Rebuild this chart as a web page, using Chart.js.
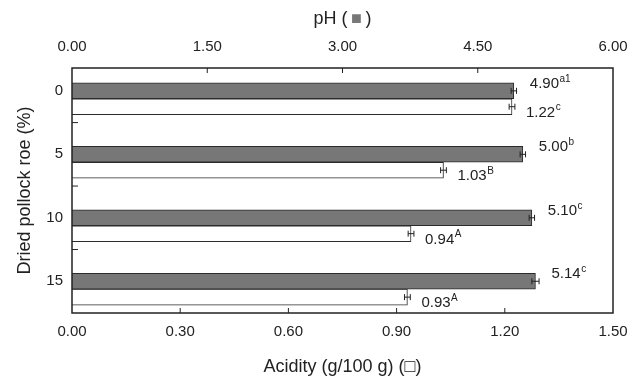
<!DOCTYPE html>
<html>
<head>
<meta charset="utf-8">
<script src="https://cdn.jsdelivr.net/npm/chart.js@4.4.1/dist/chart.umd.min.js"></script>
<style>
  body { margin: 0; background: #fff; }
</style>
</head>
<body>
<canvas id="myChart" width="640" height="382"></canvas>
<script>
// data
const roeLevels = [0, 5, 10, 15];
const phValues = [4.90, 5.00, 5.10, 5.14];
const phErrors = [0.03, 0.03, 0.03, 0.04];
const phLetters = ["a1", "b", "c", "c"];
const acidityValues = [1.22, 1.03, 0.94, 0.93];
const acidityErrors = [0.008, 0.008, 0.008, 0.008];
const acidityLetters = ["c", "B", "A", "A"];
const yTicks = [0, 2.5, 5, 7.5, 10, 12.5, 15];

const FONT = '"Liberation Sans", Arial, Helvetica, sans-serif';
const INK = "#222";
const WHITE_SHIFT = 1.25; // white bar sits just below the dark one

Chart.defaults.font.family = FONT;
Chart.defaults.color = INK;

const ctx = document.getElementById("myChart");

function drawLabel(c, x, y, main, sup) {
  c.textAlign = "left";
  c.textBaseline = "middle";
  c.font = "15px " + FONT;
  c.fillText(main, x, y);
  const w = c.measureText(main).width;
  c.font = "10px " + FONT;
  c.fillText(sup, x + w + 0.5, y - 5);
}

const decorations = {
  id: "decorations",
  afterDatasetsDraw(chart) {
    const c = chart.ctx;
    c.save();
    c.strokeStyle = INK;
    c.fillStyle = INK;
    c.lineWidth = 1;
    chart.data.datasets.forEach((ds, d) => {
      const meta = chart.getDatasetMeta(d);
      const xs = meta.vScale;
      meta.data.forEach((bar, i) => {
        const v = ds.data[i].x;
        const e = ds.errors[i];
        const x1 = xs.getPixelForValue(v - e);
        const x2 = xs.getPixelForValue(v + e);
        const y = bar.y;
        c.beginPath();
        c.moveTo(x1, y); c.lineTo(x2, y);
        c.moveTo(x1, y - 3); c.lineTo(x1, y + 3);
        c.moveTo(x2, y - 3); c.lineTo(x2, y + 3);
        c.stroke();
        const lx = xs.getPixelForValue(v) + ds.labelDx;
        drawLabel(c, lx, y + ds.labelDy, v.toFixed(2), ds.letters[i]);
      });
    });
    c.restore();
  },
  afterDraw(chart) {
    const c = chart.ctx;
    const a = chart.chartArea;
    const { x, x2, y } = chart.scales;
    c.save();
    c.strokeStyle = INK;
    c.lineWidth = 1.5;
    c.strokeRect(a.left, a.top, a.right - a.left, a.bottom - a.top);
    c.lineWidth = 1;
    c.beginPath();
    x.ticks.forEach(t => {
      if (t.value <= x.min || t.value >= x.max) return;
      const px = x.getPixelForValue(t.value);
      c.moveTo(px, a.bottom); c.lineTo(px, a.bottom - 5);
    });
    x2.ticks.forEach(t => {
      if (t.value <= x2.min || t.value >= x2.max) return;
      const px = x2.getPixelForValue(t.value);
      c.moveTo(px, a.top); c.lineTo(px, a.top + 5);
    });
    y.ticks.forEach(t => {
      if (t.value % 5 === 0) return;
      const py = y.getPixelForValue(t.value);
      c.moveTo(a.left, py); c.lineTo(a.left + 6, py);
    });
    c.stroke();

    // top title with grey square
    c.font = "18px " + FONT;
    c.textBaseline = "middle";
    c.textAlign = "left";
    const parts = [["pH (", INK], ["\u2009\u25A0\u2009", "#777"], [")", INK]];
    const total = parts.reduce((s, p) => s + c.measureText(p[0]).width, 0);
    let tx = (a.left + a.right) / 2 - total / 2;
    parts.forEach(([s, col]) => {
      c.fillStyle = col;
      c.fillText(s, tx, 19);
      tx += c.measureText(s).width;
    });
    c.restore();
  }
};

new Chart(ctx, {
  type: "bar",
  data: {
    datasets: [
      {
        label: "pH",
        xAxisID: "x2",
        yAxisID: "y",
        data: roeLevels.map((r, i) => ({ x: phValues[i], y: r })),
        errors: phErrors,
        letters: phLetters,
        labelDx: 16,
        labelDy: -7,
        backgroundColor: "#777777",
        borderColor: "#2b2b2b",
        borderWidth: 1,
      },
      {
        label: "Acidity",
        xAxisID: "x",
        yAxisID: "y",
        data: roeLevels.map((r, i) => ({ x: acidityValues[i], y: r + WHITE_SHIFT })),
        errors: acidityErrors,
        letters: acidityLetters,
        labelDx: 14,
        labelDy: 6,
        backgroundColor: "#ffffff",
        borderColor: "#2b2b2b",
        borderWidth: 1,
      },
    ],
  },
  options: {
    indexAxis: "y",
    responsive: false,
    animation: false,
    grouped: false,
    categoryPercentage: 1,
    barPercentage: 1,
    layout: { padding: { right: 27 } },
    plugins: {
      legend: { display: false },
      tooltip: { enabled: false },
    },
    scales: {
      x: {
        type: "linear",
        position: "bottom",
        min: 0,
        max: 1.5,
        grid: { display: false, drawTicks: false },
        border: { display: false },
        ticks: { stepSize: 0.3, padding: 10, font: { size: 15 }, callback: v => v.toFixed(2) },
        title: { display: true, text: "Acidity (g/100 g) (\u25A1)", font: { size: 18 }, padding: { top: 0, bottom: 4 } },
        afterFit: s => { s.height = 69; },
      },
      x2: {
        type: "linear",
        position: "top",
        min: 0,
        max: 6,
        grid: { display: false, drawTicks: false },
        border: { display: false },
        ticks: { stepSize: 1.5, padding: 12, font: { size: 15 }, callback: v => v.toFixed(2) },
        afterFit: s => { s.height = 68; },
      },
      y: {
        type: "linear",
        reverse: true,
        offset: false,
        min: -1.8,
        max: 17.5,
        grid: { display: false, drawTicks: false, offset: false },
        border: { display: false },
        afterBuildTicks: s => { s.ticks = yTicks.map(v => ({ value: v })); },
        ticks: { padding: 9, font: { size: 15 }, callback: v => (v % 5 === 0 ? String(v) : "") },
        title: { display: true, text: "Dried pollock roe (%)", font: { size: 18 }, padding: { top: 14, bottom: 0 } },
        afterFit: s => { s.width = 72; },
      },
    },
  },
  plugins: [decorations],
});
</script>
</body>
</html>
